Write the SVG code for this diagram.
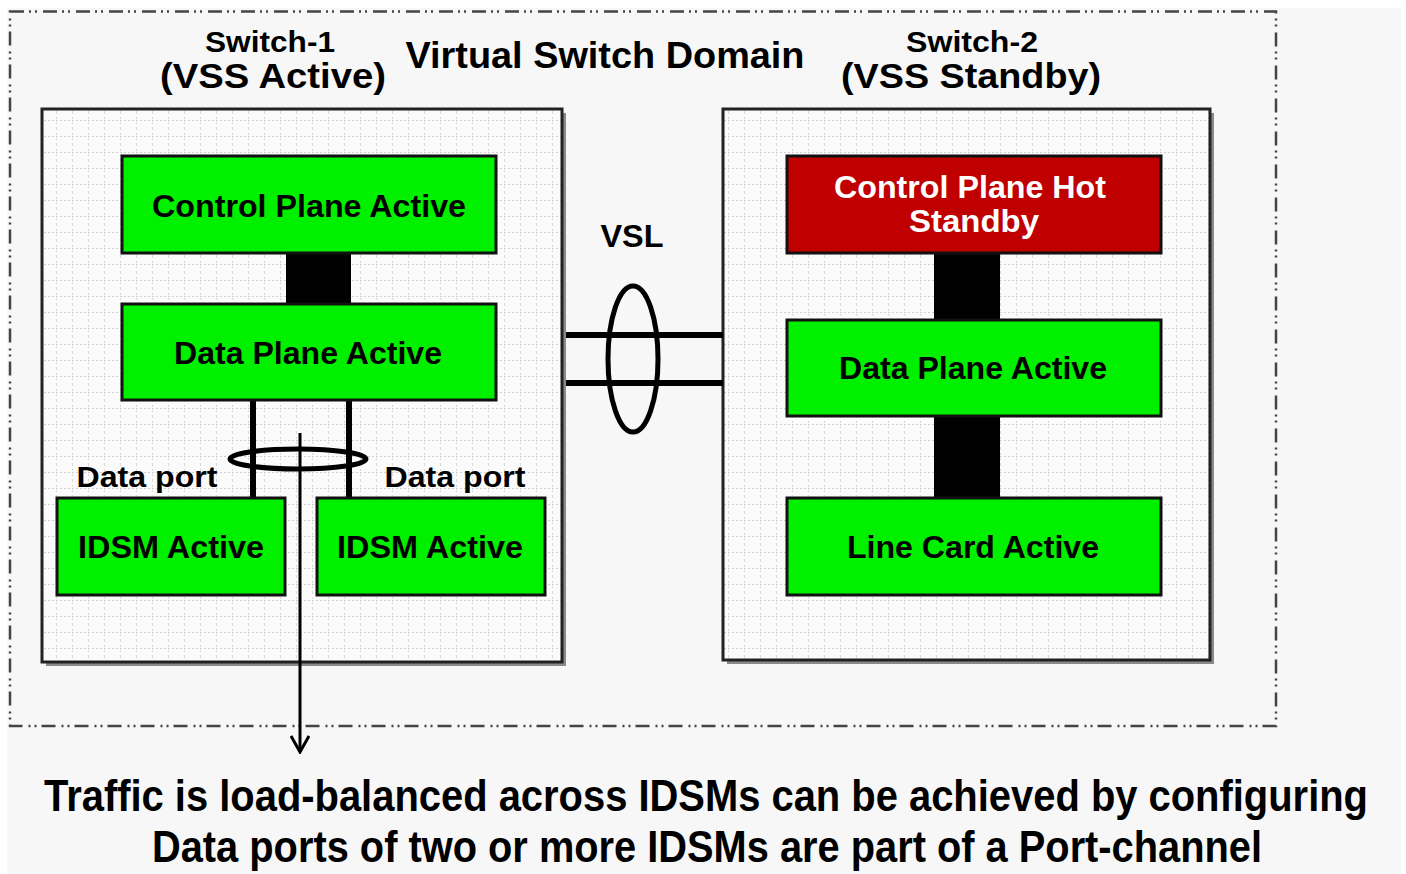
<svg xmlns="http://www.w3.org/2000/svg" width="1406" height="874" viewBox="0 0 1406 874">
<defs>
<pattern id="grid" width="16" height="16" patternUnits="userSpaceOnUse">
<rect width="16" height="16" fill="#fbfbfb"/>
<path d="M0 8.5H16" stroke="#cfcfcf" stroke-width="1" stroke-dasharray="2,2"/>
<path d="M8.5 0V16" stroke="#d8d8d8" stroke-width="1" stroke-dasharray="2,3"/>
</pattern>
<marker id="arr" markerWidth="20" markerHeight="20" refX="18" refY="10" orient="auto" markerUnits="userSpaceOnUse" viewBox="0 0 20 20">
<path d="M2 1 L18 10 L2 19" fill="none" stroke="#000" stroke-width="3"/>
</marker>
</defs>
<style>
.sw{fill:url(#grid);stroke:#222;stroke-width:3}
.shadow{fill:#8a8a8a}
.g{fill:#00f000;stroke:#111;stroke-width:3}
.r{fill:#c00000;stroke:#111;stroke-width:3}
.bar{fill:#000}
.t{font-family:"Liberation Sans",Arial,sans-serif;font-weight:bold;fill:#000;text-anchor:middle}
.w{fill:#fff}
.lnk{stroke:#000;fill:none}
</style>
<rect x="0" y="0" width="1406" height="874" fill="#fff"/>
<rect x="7" y="8" width="1394" height="866" fill="#f7f7f7"/>
<rect x="10" y="11.5" width="1266" height="714.5" fill="none" stroke="#444" stroke-width="2.5" stroke-dasharray="14,5,2,4,2,6"/>

<text class="t" x="270" y="52" font-size="30" textLength="130" lengthAdjust="spacingAndGlyphs">Switch-1</text>
<text class="t" x="273" y="88" font-size="35" textLength="226" lengthAdjust="spacingAndGlyphs">(VSS Active)</text>
<text class="t" x="605" y="68" font-size="36" textLength="399" lengthAdjust="spacingAndGlyphs">Virtual Switch Domain</text>
<text class="t" x="972" y="52" font-size="30" textLength="132" lengthAdjust="spacingAndGlyphs">Switch-2</text>
<text class="t" x="971" y="88" font-size="35" textLength="260" lengthAdjust="spacingAndGlyphs">(VSS Standby)</text>
<text class="t" x="632" y="247" font-size="32" textLength="63" lengthAdjust="spacingAndGlyphs">VSL</text>

<g id="switch1">
<rect class="shadow" x="46" y="113" width="520" height="553"/>
<rect class="sw" x="42" y="109" width="520" height="553"/>
</g>
<g id="switch2">
<rect class="shadow" x="727" y="113" width="487" height="551"/>
<rect class="sw" x="723" y="109" width="487" height="551"/>
</g>

<g id="connectors">
<rect class="bar" x="286" y="253" width="65" height="51"/>
<rect class="bar" x="934" y="253" width="66" height="67"/>
<rect class="bar" x="934" y="416" width="66" height="82"/>
<line class="lnk" x1="253" y1="400" x2="253" y2="498" stroke-width="6"/>
<line class="lnk" x1="349" y1="400" x2="349" y2="498" stroke-width="6"/>
<ellipse class="lnk" cx="298" cy="459" rx="68" ry="10" stroke-width="5"/>
<line class="lnk" x1="300" y1="433" x2="300" y2="752" stroke-width="3" marker-end="url(#arr)"/>
<line class="lnk" x1="566" y1="335" x2="723" y2="335" stroke-width="6"/>
<line class="lnk" x1="566" y1="383" x2="723" y2="383" stroke-width="6"/>
<ellipse class="lnk" cx="633" cy="359" rx="25" ry="73" stroke-width="5"/>
</g>

<g id="cp-active">
<rect class="g" x="122" y="156" width="374" height="97"/>
<text class="t" x="309" y="217" font-size="31" textLength="314" lengthAdjust="spacingAndGlyphs">Control Plane Active</text>
</g>
<g id="dp-active-1">
<rect class="g" x="122" y="304" width="374" height="96"/>
<text class="t" x="308" y="364" font-size="31" textLength="268" lengthAdjust="spacingAndGlyphs">Data Plane Active</text>
</g>
<g id="idsm-1">
<rect class="g" x="57" y="498" width="228" height="97"/>
<text class="t" x="171" y="558" font-size="31" textLength="186" lengthAdjust="spacingAndGlyphs">IDSM Active</text>
</g>
<g id="idsm-2">
<rect class="g" x="317" y="498" width="228" height="97"/>
<text class="t" x="430" y="558" font-size="31" textLength="186" lengthAdjust="spacingAndGlyphs">IDSM Active</text>
</g>
<g id="dataport-labels">
<text class="t" x="147" y="487" font-size="30" textLength="141" lengthAdjust="spacingAndGlyphs">Data port</text>
<text class="t" x="455" y="487" font-size="30" textLength="141" lengthAdjust="spacingAndGlyphs">Data port</text>
</g>
<g id="cp-standby">
<rect class="r" x="787" y="156" width="374" height="97"/>
<text class="t w" x="970" y="198" font-size="31" textLength="272" lengthAdjust="spacingAndGlyphs">Control Plane Hot</text>
<text class="t w" x="974" y="232" font-size="31" textLength="130" lengthAdjust="spacingAndGlyphs">Standby</text>
</g>
<g id="dp-active-2">
<rect class="g" x="787" y="320" width="374" height="96"/>
<text class="t" x="973" y="379" font-size="31" textLength="268" lengthAdjust="spacingAndGlyphs">Data Plane Active</text>
</g>
<g id="linecard">
<rect class="g" x="787" y="498" width="374" height="97"/>
<text class="t" x="973" y="558" font-size="31" textLength="252" lengthAdjust="spacingAndGlyphs">Line Card Active</text>
</g>

<g id="caption">
<text class="t" x="706" y="811" font-size="44" textLength="1324" lengthAdjust="spacingAndGlyphs">Traffic is load-balanced across IDSMs can be achieved by configuring</text>
<text class="t" x="707" y="862" font-size="44" textLength="1110" lengthAdjust="spacingAndGlyphs">Data ports of two or more IDSMs are part of a Port-channel</text>
</g>
</svg>
